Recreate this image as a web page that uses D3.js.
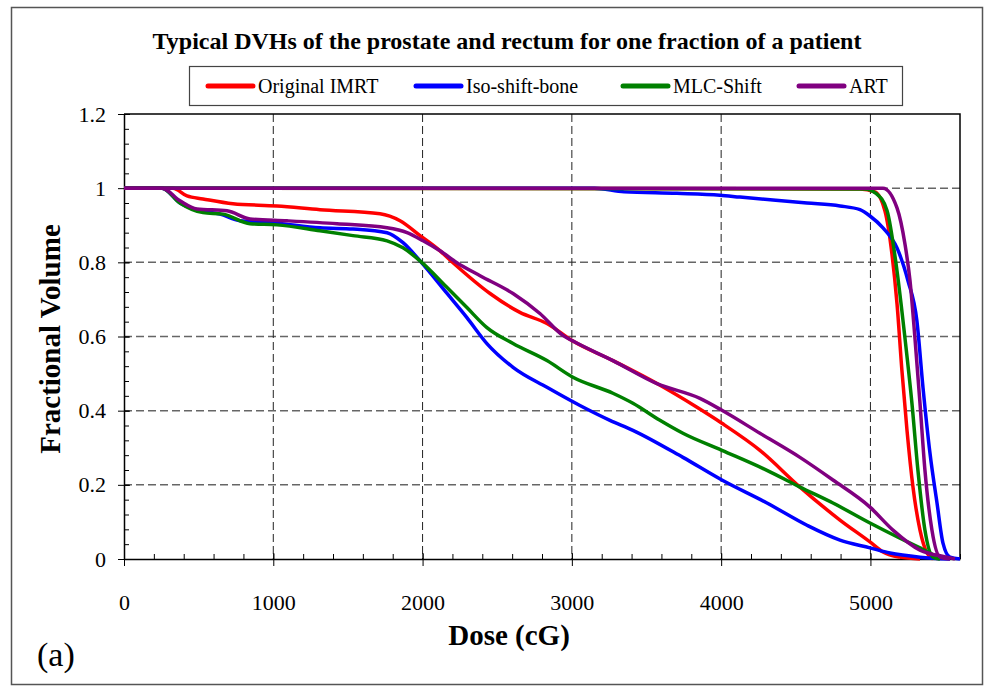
<!DOCTYPE html>
<html>
<head>
<meta charset="utf-8">
<script src="https://cdn.jsdelivr.net/npm/d3@7/dist/d3.min.js"></script>
<style>
  html, body { margin: 0; padding: 0; background: #fff; }
  svg { display: block; }
  text { font-family: "Liberation Serif", "Times New Roman", serif; fill: #000; }
</style>
</head>
<body>
<svg id="chart" width="986" height="686"></svg>
<script>
// ---------- data (dose in cG, fractional volume) ----------
const seriesNames = ["Original IMRT", "Iso-shift-bone", "MLC-Shift", "ART"];
const seriesColors = ["#ff0000", "#0000ff", "#008000", "#800080"];

const xTicks = [0, 1000, 2000, 3000, 4000, 5000];
const yTicks = [0, 0.2, 0.4, 0.6, 0.8, 1, 1.2];

// Prostate DVHs
const imrtProstate = [[0,1],[4930,0.998],[5030,0.99],[5097,0.939],[5144,0.823],[5178,0.689],[5211,0.508],[5245,0.347],[5285,0.194],[5332,0.078],[5379,0.016],[5419,0]];
const isoProstate  = [[0,1],[3150,1],[3350,0.99],[3704,0.986],[3992,0.981],[4126,0.976],[4347,0.968],[4575,0.96],[4796,0.952],[4930,0.942],[4997,0.925],[5084,0.893],[5178,0.839],[5251,0.751],[5311,0.643],[5352,0.463],[5399,0.285],[5446,0.151],[5486,0.043],[5533,0.005],[5600,0]];
const mlcProstate  = [[0,1],[4960,0.998],[5040,0.985],[5111,0.94],[5178,0.777],[5231,0.597],[5278,0.42],[5318,0.24],[5365,0.078],[5419,0.005],[5466,0]];
const artProstate  = [[0,1],[5084,1],[5178,0.947],[5231,0.85],[5265,0.751],[5298,0.597],[5332,0.42],[5365,0.24],[5412,0.078],[5466,0.005],[5533,0]];

// Rectum DVHs
const imrtRectum = [[0,1],[328,1],[422,0.979],[529,0.971],[730,0.958],[1025,0.952],[1313,0.942],[1715,0.931],[1849,0.912],[1983,0.872],[2117,0.831],[2204,0.799],[2452,0.716],[2652,0.665],[2833,0.635],[3001,0.589],[3275,0.535],[3570,0.473],[3838,0.409],[4005,0.366],[4260,0.293],[4528,0.194],[4796,0.105],[4997,0.046],[5084,0.019],[5198,0.005],[5332,0]];
const isoRectum  = [[0,1],[255,1],[375,0.96],[509,0.939],[643,0.93],[777,0.912],[998,0.907],[1313,0.893],[1534,0.89],[1762,0.88],[1869,0.853],[1983,0.804],[2164,0.716],[2297,0.651],[2431,0.581],[2606,0.517],[2833,0.463],[3054,0.414],[3255,0.374],[3409,0.347],[3744,0.274],[4005,0.213],[4307,0.151],[4575,0.091],[4796,0.051],[4997,0.03],[5131,0.016],[5332,0.005],[5533,0]];
const mlcRectum  = [[0,1],[255,1],[375,0.96],[529,0.934],[663,0.93],[844,0.904],[1025,0.901],[1313,0.885],[1534,0.872],[1762,0.858],[1869,0.839],[1983,0.804],[2164,0.732],[2297,0.678],[2431,0.624],[2606,0.581],[2833,0.535],[3007,0.49],[3275,0.447],[3409,0.42],[3590,0.374],[3744,0.339],[4005,0.293],[4307,0.239],[4528,0.194],[4749,0.151],[4997,0.097],[5198,0.056],[5332,0.03],[5399,0.016],[5466,0]];
const artRectum  = [[0,1],[255,1],[375,0.966],[489,0.944],[690,0.939],[844,0.917],[1092,0.912],[1427,0.904],[1762,0.893],[1896,0.88],[2003,0.858],[2117,0.831],[2230,0.799],[2385,0.764],[2606,0.716],[2786,0.662],[2940,0.603],[3001,0.589],[3275,0.535],[3570,0.473],[3858,0.433],[4005,0.401],[4260,0.339],[4528,0.274],[4749,0.213],[4997,0.14],[5151,0.078],[5332,0.024],[5512,0.005],[5566,0]];

const prostateData = [imrtProstate, isoProstate, mlcProstate, artProstate];
const rectumData   = [imrtRectum, isoRectum, mlcRectum, artRectum];

// ---------- layout ----------
const svg = d3.select("#chart");
const L = 124, T = 114, R = 960, B = 559;
const x = d3.scaleLinear().domain([0, 5600]).range([L, R]);
const y = d3.scaleLinear().domain([0, 1.2]).range([B, T]);

// outer frame
svg.append("rect").attr("x", 11.5).attr("y", 7.5).attr("width", 971).attr("height", 677)
  .attr("fill", "none").attr("stroke", "#555").attr("stroke-width", 1.5);

// gridlines
const grid = svg.append("g");
grid.selectAll("line.hg").data(yTicks.filter(v => v > 0 && v < 1.2)).join("line")
  .attr("x1", L).attr("x2", R).attr("y1", d => y(d)).attr("y2", d => y(d))
  .attr("stroke", "#666").attr("stroke-width", 1.5).attr("stroke-dasharray", "8,4");
grid.selectAll("line.vg").data(xTicks.filter(v => v > 0)).join("line")
  .attr("y1", T).attr("y2", B).attr("x1", d => x(d)).attr("x2", d => x(d))
  .attr("stroke", "#222").attr("stroke-width", 1).attr("stroke-dasharray", "8,4");

// plot border (top & right)
svg.append("path").attr("d", `M${L},${T}H${R}V${B}`).attr("fill", "none")
  .attr("stroke", "#000").attr("stroke-width", 1.5);

// minor ticks (inside)
const xMinor = d3.range(0, 5601, 200);
const yMinor = d3.range(0, 1.2001, 0.04);
svg.append("g").attr("transform", `translate(0,${B})`)
  .call(d3.axisTop(x).tickValues(xMinor).tickSize(5).tickFormat(""))
  .call(g => g.select(".domain").remove())
  .call(g => g.selectAll("line").attr("stroke", "#000"));
svg.append("g").attr("transform", `translate(${L},0)`)
  .call(d3.axisRight(y).tickValues(yMinor).tickSize(5).tickFormat(""))
  .call(g => g.select(".domain").remove())
  .call(g => g.selectAll("line").attr("stroke", "#000"));

// major axes
const xAxis = svg.append("g").attr("transform", `translate(0,${B})`)
  .call(d3.axisBottom(x).tickValues(xTicks).tickSizeInner(7).tickSizeOuter(0).tickPadding(28).tickFormat(d3.format("d")));
xAxis.select(".domain").attr("stroke", "#000").attr("stroke-width", 1.5);
xAxis.selectAll(".tick line").attr("stroke", "#000").attr("y1", -6);
xAxis.selectAll("text").style("font-family", "'Liberation Serif', serif").style("font-size", "22px").attr("fill", "#000");

const yAxis = svg.append("g").attr("transform", `translate(${L},0)`)
  .call(d3.axisLeft(y).tickValues(yTicks).tickSizeInner(6).tickSizeOuter(0).tickPadding(12)
    .tickFormat(d => d === 0 ? "0" : d3.format(".1~f")(d)));
yAxis.select(".domain").attr("stroke", "#000").attr("stroke-width", 1.5);
yAxis.selectAll(".tick line").attr("stroke", "#000").attr("x1", 6);
yAxis.selectAll("text").style("font-family", "'Liberation Serif', serif").style("font-size", "22px").attr("fill", "#000");

// curves
const line = d3.line().x(d => x(d[0])).y(d => y(d[1])).curve(d3.curveMonotoneX);
const curves = svg.append("g");
seriesNames.forEach((n, i) => {
  [rectumData[i], prostateData[i]].forEach(data => {
    curves.append("path").datum(data).attr("d", line)
      .attr("fill", "none").attr("stroke", seriesColors[i])
      .attr("stroke-width", 3.5).attr("stroke-linejoin", "round");
  });
});

// title
svg.append("text").attr("x", 507).attr("y", 49).attr("text-anchor", "middle")
  .style("font-size", "24px").style("font-weight", "bold")
  .text("Typical DVHs of the prostate and rectum for one fraction of a patient");

// legend
svg.append("rect").attr("x", 189.5).attr("y", 66.5).attr("width", 713).attr("height", 39)
  .attr("fill", "#fff").attr("stroke", "#444").attr("stroke-width", 1.2);
const legendX = [208, 416, 623, 799];
seriesNames.forEach((n, i) => {
  const g = svg.append("g").attr("transform", `translate(${legendX[i]},86)`);
  g.append("line").attr("x1", 0).attr("x2", 45).attr("y1", 0).attr("y2", 0)
    .attr("stroke", seriesColors[i]).attr("stroke-width", 5).attr("stroke-linecap", "round");
  g.append("text").attr("x", 50).attr("y", 7).style("font-size", "20px").text(n);
});

// axis titles
svg.append("text").attr("x", 509).attr("y", 645).attr("text-anchor", "middle")
  .style("font-size", "29px").style("font-weight", "bold").text("Dose (cG)");
svg.append("text").attr("transform", "translate(60,339) rotate(-90)").attr("text-anchor", "middle")
  .style("font-size", "29px").style("font-weight", "bold").text("Fractional Volume");

// panel label
svg.append("text").attr("x", 37).attr("y", 666).style("font-size", "34px").text("(a)");
</script>
</body>
</html>
